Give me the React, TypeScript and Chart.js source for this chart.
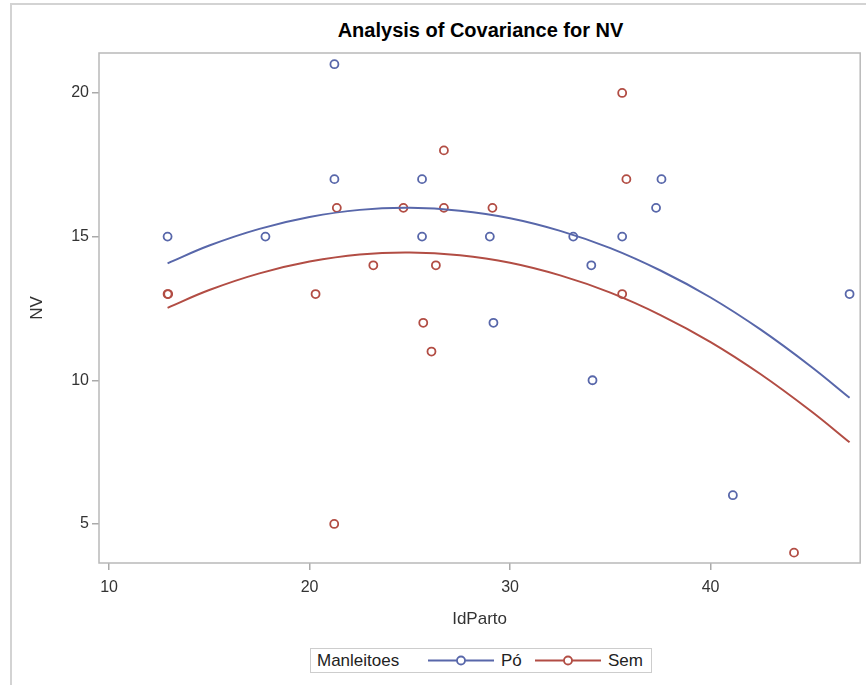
import React, { useEffect, useRef } from 'react';
import { Chart, registerables } from 'chart.js';
Chart.register(...registerables);

// Pó observations
const poX = [21.24, 21.24, 25.61, 12.92, 17.8, 25.61, 28.99, 29.17, 33.15, 35.59, 37.28, 37.55, 34.05, 46.93, 34.11, 41.11];
const poY = [21, 17, 17, 15, 15, 15, 15, 12, 15, 15, 16, 17, 14, 13, 10, 6];
// Sem observations
const semX = [26.7, 21.36, 24.68, 26.7, 29.12, 23.18, 26.3, 12.92, 12.95, 20.3, 25.67, 26.08, 21.23, 35.59, 35.8, 35.59, 44.16];
const semY = [18, 16, 16, 16, 16, 14, 14, 13, 13, 13, 12, 11, 5, 20, 17, 13, 4];
// fitted curves
const fitX = [12.92, 15, 17.5, 20, 22.5, 25, 27.5, 30, 32.5, 35, 37.5, 40, 42.5, 45, 46.93];
const poFit = [14.07, 14.69, 15.27, 15.68, 15.93, 16.0, 15.9, 15.64, 15.2, 14.6, 13.82, 12.88, 11.76, 10.48, 9.39];
const semFit = [12.52, 13.14, 13.72, 14.13, 14.38, 14.45, 14.35, 14.09, 13.65, 13.05, 12.27, 11.33, 10.21, 8.93, 7.84];

const xTicks = [10, 20, 30, 40];
const yTicks = [5, 10, 15, 20];

const BLUE = '#5867aa';
const RED = '#b24d44';
const FONT = "'Liberation Sans', Arial, sans-serif";

const framePlugin = {
  id: 'frame',
  beforeDatasetsDraw(chart: any) {
    const { ctx, chartArea } = chart;
    ctx.save();
    ctx.strokeStyle = '#b9b9b9';
    ctx.lineWidth = 1.5;
    ctx.strokeRect(chartArea.left, chartArea.top, chartArea.right - chartArea.left, chartArea.bottom - chartArea.top);
    ctx.restore();
  },
};

export default function App() {
  const ref = useRef<HTMLCanvasElement>(null);
  useEffect(() => {
    document.body.style.margin = '0';
    const pts = (xs: number[], ys: number[]) => xs.map((x, i) => ({ x, y: ys[i] }));
    const chart = new Chart(ref.current!, {
      type: 'scatter',
      data: {
        datasets: [
          {
            label: 'Pó fit',
            data: pts(fitX, poFit),
            showLine: true,
            borderColor: BLUE,
            borderWidth: 2,
            pointRadius: 0,
            tension: 0.4,
          },
          {
            label: 'Sem fit',
            data: pts(fitX, semFit),
            showLine: true,
            borderColor: RED,
            borderWidth: 2,
            pointRadius: 0,
            tension: 0.4,
          },
          {
            label: 'Pó',
            data: pts(poX, poY),
            pointStyle: 'circle',
            pointRadius: 4,
            pointBorderWidth: 1.8,
            borderColor: BLUE,
            backgroundColor: 'rgba(255,255,255,0)',
          },
          {
            label: 'Sem',
            data: pts(semX, semY),
            pointStyle: 'circle',
            pointRadius: 4,
            pointBorderWidth: 1.8,
            borderColor: RED,
            backgroundColor: 'rgba(255,255,255,0)',
          },
        ],
      },
      options: {
        responsive: false,
        animation: false,
        layout: { padding: { left: 0, right: 4, top: 53, bottom: 45 } },
        plugins: {
          legend: { display: false },
          tooltip: { enabled: false },
          title: { display: false },
        },
        scales: {
          x: {
            type: 'linear',
            min: 9.5,
            max: 47.46,
            afterBuildTicks: (s: any) => { s.ticks = xTicks.map((v) => ({ value: v })); },
            afterFit: (s: any) => { s.height = 77; },
            border: { display: false },
            grid: { drawOnChartArea: false, drawTicks: true, tickLength: 7, color: '#aaa', lineWidth: 1.5 },
            ticks: { color: '#333', font: { family: FONT, size: 16 }, padding: 8, maxRotation: 0 },
            title: {
              display: true,
              text: 'IdParto',
              color: '#333',
              font: { family: FONT, size: 17 },
              padding: { top: 0, bottom: 10 },
            },
          },
          y: {
            type: 'linear',
            min: 3.64,
            max: 21.39,
            afterBuildTicks: (s: any) => { s.ticks = yTicks.map((v) => ({ value: v })); },
            afterFit: (s: any) => { s.width = 99; },
            border: { display: false },
            grid: { drawOnChartArea: false, drawTicks: true, tickLength: 7, color: '#aaa', lineWidth: 1.5 },
            ticks: { color: '#333', font: { family: FONT, size: 16 }, padding: 3 },
            title: {
              display: true,
              text: 'NV',
              color: '#333',
              font: { family: FONT, size: 17 },
              padding: { top: 27, bottom: 0 },
            },
          },
        },
      },
      plugins: [framePlugin],
    });
    return () => chart.destroy();
  }, []);

  const legendText: React.CSSProperties = {
    position: 'absolute',
    top: 0,
    lineHeight: '23px',
    fontFamily: FONT,
    fontSize: 17,
    color: '#222',
    whiteSpace: 'nowrap',
  };

  const marker = (color: string) => (
    <svg width={66} height={23} style={{ display: 'block' }}>
      <line x1={0} y1={11.5} x2={66} y2={11.5} stroke={color} strokeWidth={2} />
      <circle cx={33} cy={11.5} r={4} fill="white" stroke={color} strokeWidth={1.8} />
    </svg>
  );

  return (
    <div style={{ position: 'relative', width: 866, height: 685, background: '#fff', overflow: 'hidden' }}>
      <div
        style={{
          position: 'absolute',
          left: 10,
          top: 3,
          width: 900,
          height: 700,
          borderLeft: '2px solid #d3d3d3',
          borderTop: '2px solid #d3d3d3',
        }}
      />
      <div
        style={{
          position: 'absolute',
          left: 99,
          top: 18,
          width: 763,
          textAlign: 'center',
          fontFamily: FONT,
          fontWeight: 'bold',
          fontSize: 20,
          lineHeight: '24px',
          color: '#000',
        }}
      >
        Analysis of Covariance for NV
      </div>
      <canvas ref={ref} width={866} height={685} style={{ position: 'absolute', left: 0, top: 0 }} />
      <div
        style={{
          position: 'absolute',
          left: 310,
          top: 648,
          width: 342,
          height: 25,
          border: '1px solid #cdcdcd',
          boxSizing: 'border-box',
          background: '#fff',
        }}
      >
        <span style={{ ...legendText, left: 6 }}>Manleitoes</span>
        <div style={{ position: 'absolute', left: 117, top: 0 }}>{marker(BLUE)}</div>
        <span style={{ ...legendText, left: 190 }}>Pó</span>
        <div style={{ position: 'absolute', left: 224, top: 0 }}>{marker(RED)}</div>
        <span style={{ ...legendText, left: 297 }}>Sem</span>
      </div>
    </div>
  );
}
